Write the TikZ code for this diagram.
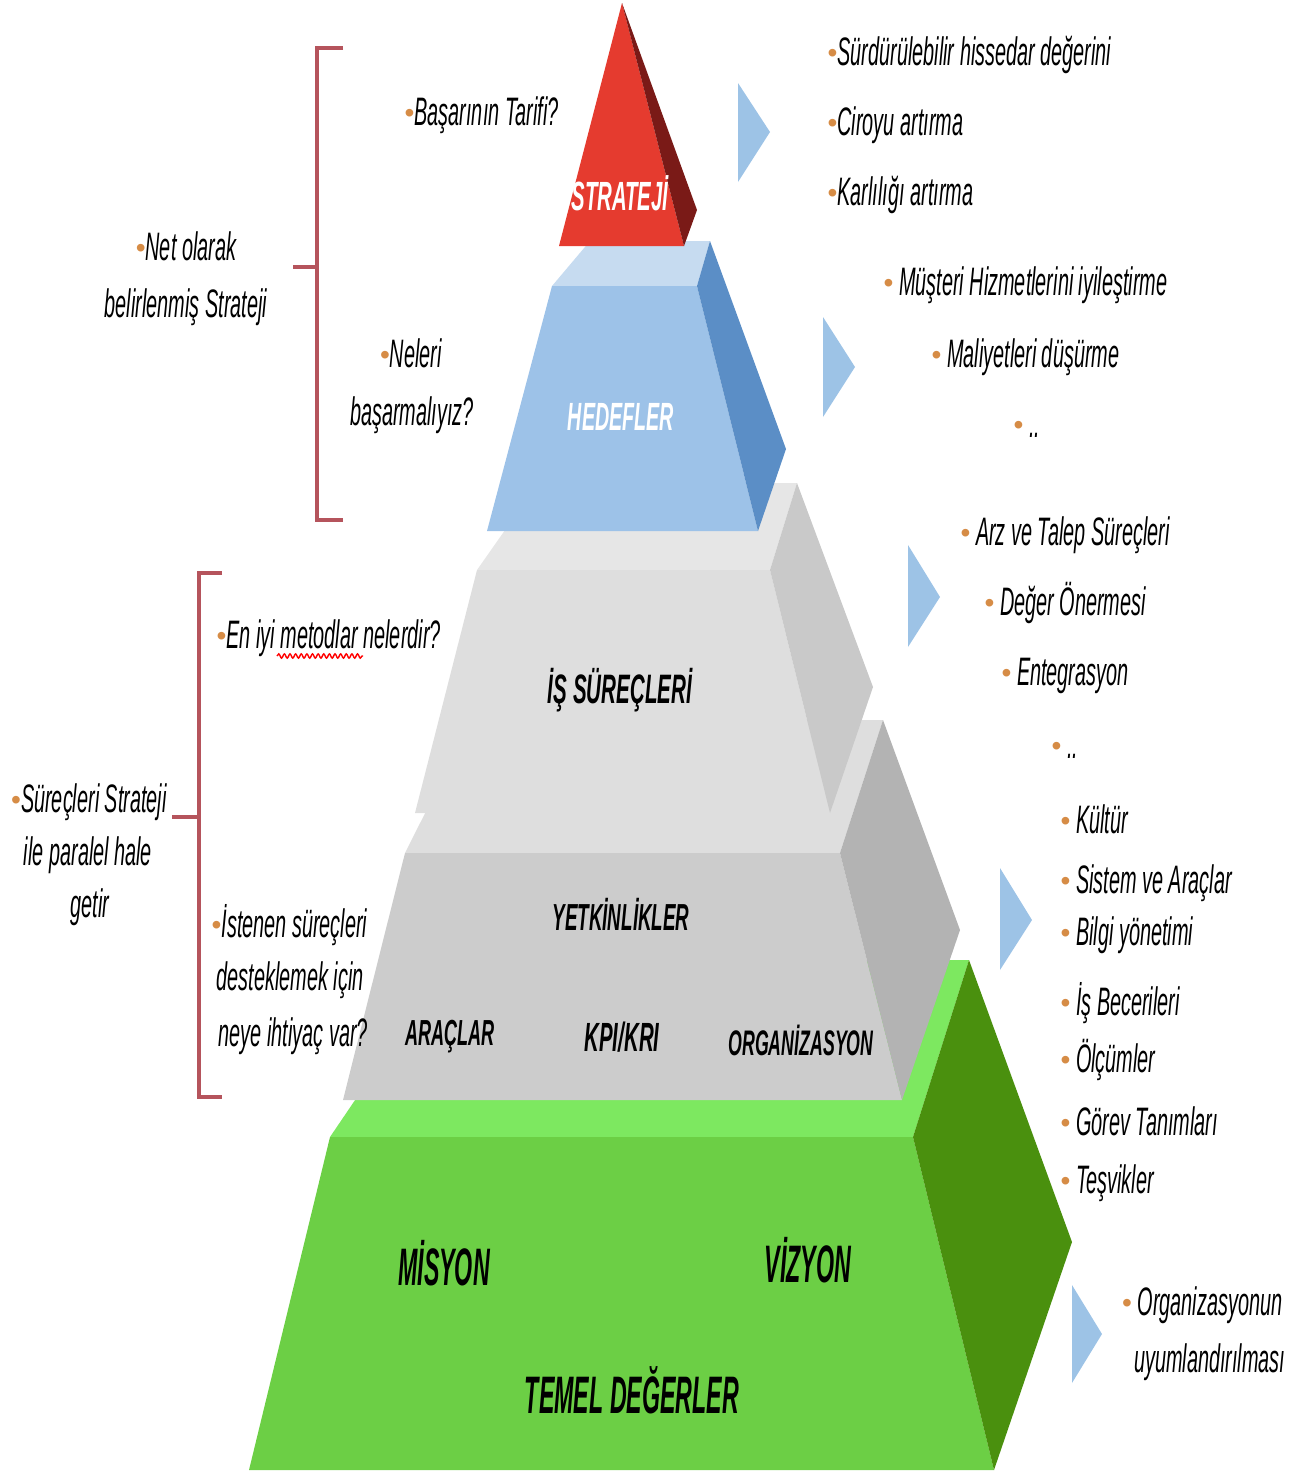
\documentclass[tikz,border=0pt]{standalone}
\usepackage{fontspec}
\usepackage{tikz}
\usetikzlibrary{decorations.pathmorphing}
\newfontfamily\slimsans[FakeStretch=0.5]{Liberation Sans}
\newfontfamily\squatsans[FakeStretch=0.44]{Liberation Sans}
\newfontfamily\plainsans{Liberation Sans}
\definecolor{stratred}{RGB}{229,59,47}
\definecolor{stratdark}{RGB}{122,26,23}
\definecolor{goaltop}{RGB}{198,219,240}
\definecolor{goalfront}{RGB}{157,194,232}
\definecolor{goalside}{RGB}{91,142,198}
\definecolor{proctop}{RGB}{230,230,230}
\definecolor{procfront}{RGB}{222,222,222}
\definecolor{procside}{RGB}{201,201,201}
\definecolor{comptop}{RGB}{222,222,222}
\definecolor{compfront}{RGB}{204,204,204}
\definecolor{compside}{RGB}{179,179,179}
\definecolor{basetop}{RGB}{125,232,96}
\definecolor{basefront}{RGB}{108,207,69}
\definecolor{baseside}{RGB}{74,144,14}
\definecolor{arrowblue}{RGB}{157,195,230}
\definecolor{bracketred}{RGB}{181,84,92}
\definecolor{dotorange}{RGB}{214,140,70}
\newcommand{\dotmark}{{\plainsans\upshape\fontsize{8}{8}\selectfont\raisebox{0.8pt}{\textcolor{dotorange}{•}}}}
\tikzset{
  note/.style={font=\slimsans\itshape\fontsize{11.3}{14}\selectfont, inner sep=0pt},
  layerlabel/.style={font=\slimsans\bfseries\itshape\fontsize{#1}{13}\selectfont, inner sep=0pt, anchor=base},
  baselabel/.style={font=\squatsans\bfseries\itshape\fontsize{15}{17}\selectfont, inner sep=0pt, anchor=base},
  bracket/.style={draw=bracketred, line width=0.9pt}
}
\begin{document}
\begin{tikzpicture}[x=0.01cm, y=-0.01cm]
    \useasboundingbox (0,0) rectangle (1308,1475);

    % Base layer
    \fill[basetop] (330,1137) -- (450,960) -- (969,960) -- (913,1137) -- cycle;
    \fill[basefront] (330,1137) -- (913,1137) -- (994,1470) -- (249,1470) -- cycle;
    \fill[baseside] (913,1137) -- (969,960) -- (1072,1242) -- (994,1470) -- cycle;

    % Competences
    \fill[comptop] (405,853) -- (472,720) -- (883,720) -- (840,853) -- cycle;
    \fill[compfront] (405,853) -- (840,853) -- (902,1100) -- (343,1100) -- cycle;
    \fill[compside] (840,853) -- (883,720) -- (960,930) -- (902,1100) -- cycle;

    % Processes
    \fill[proctop] (477,570) -- (538,483) -- (797,483) -- (770,570) -- cycle;
    \fill[procfront] (477,570) -- (770,570) -- (830,813) -- (415,813) -- cycle;
    \fill[procside] (770,570) -- (797,483) -- (873,687) -- (830,813) -- cycle;

    % Goals
    \fill[goaltop] (552,286) -- (590,241) -- (710,241) -- (697,286) -- cycle;
    \fill[goalfront] (552,286) -- (697,286) -- (758,531) -- (487,531) -- cycle;
    \fill[goalside] (697,286) -- (710,241) -- (786,449) -- (758,531) -- cycle;

    % Strategy tip
    \fill[stratred] (622,3) -- (684,246) -- (559,246) -- cycle;
    \fill[stratdark] (622,3) -- (697,210) -- (684,246) -- cycle;

    % Layer names
    \node[layerlabel=11.6, white] (strat) at (620,210) {STRATEJİ};
    \node[layerlabel=11.2, white] (goal) at (621,430) {HEDEFLER};
    \node[layerlabel=11.7] (proc) at (620,703) {İŞ SÜREÇLERİ};
    \node[layerlabel=10.7] (comp) at (621,930) {YETKİNLİKLER};
    \node[layerlabel=10.3] (tools) at (450,1045) {ARAÇLAR};
    \node[layerlabel=11.6] (kpi) at (622,1051) {KPI/KRI};
    \node[layerlabel=10.1] (org) at (801,1055) {ORGANİZASYON};
    \node[baselabel] (mission) at (444,1285) {MİSYON};
    \node[baselabel] (vision) at (808,1282) {VİZYON};
    \node[baselabel] (values) at (632,1413) {TEMEL DEĞERLER};

    % Blue pointers
    \fill[arrowblue] (738,83) -- (770,132) -- (738,182) -- cycle;
    \fill[arrowblue] (823,317) -- (855,367) -- (823,417) -- cycle;
    \fill[arrowblue] (908,545) -- (940,597) -- (908,647) -- cycle;
    \fill[arrowblue] (1000,868) -- (1032,920) -- (1000,970) -- cycle;
    \fill[arrowblue] (1072,1285) -- (1102,1334) -- (1072,1383) -- cycle;

    % Brackets
    \draw[bracket] (343,48) -- (317,48) -- (317,520) -- (343,520);
    \draw[bracket] (293,267) -- (317,267);
    \draw[bracket] (222,573) -- (199,573) -- (199,1097) -- (222,1097);
    \draw[bracket] (172,817) -- (199,817);

    % Left questions
    \node[note, anchor=base west] (tarif) at (404,125) {\dotmark Başarının Tarifi?};
    \node[note, anchor=base] (net1) at (186,260) {\dotmark Net olarak};
    \node[note, anchor=base] (net2) at (186,317) {belirlenmiş Strateji};
    \node[note, anchor=base] (neleri1) at (411,367) {\dotmark Neleri};
    \node[note, anchor=base] (neleri2) at (412,425) {başarmalıyız?};
    \node[note, anchor=base west] (metod) at (216,648) {\dotmark En iyi metodlar nelerdir?};
    \draw[red, decorate, decoration={snake, amplitude=0.6pt, segment length=1.6pt}] (277,656) -- (363,656);
    \node[note, anchor=base] (paral1) at (89,812) {\dotmark Süreçleri Strateji};
    \node[note, anchor=base] (paral2) at (88,865) {ile paralel hale};
    \node[note, anchor=base] (paral3) at (90,917) {getir};
    \node[note, anchor=base west] (ihtiyac1) at (211,937) {\dotmark İstenen süreçleri};
    \node[note, anchor=base west] (ihtiyac2) at (216,990) {desteklemek için};
    \node[note, anchor=base west] (ihtiyac3) at (218,1046) {neye ihtiyaç var?};

    % Right lists
    \node[note, anchor=base west] (deger) at (827,65) {\dotmark Sürdürülebilir hissedar değerini};
    \node[note, anchor=base west] (ciro) at (827,135) {\dotmark Ciroyu artırma};
    \node[note, anchor=base west] (kar) at (827,205) {\dotmark Karlılığı artırma};
    \node[note, anchor=base west] (musteri) at (883,295) {\dotmark\ Müşteri Hizmetlerini iyileştirme};
    \node[note, anchor=base west] (maliyet) at (931,367) {\dotmark\ Maliyetleri düşürme};
    \node[note, anchor=base west] (etc1) at (1013,437) {\dotmark\ ..};
    \node[note, anchor=base west] (arz) at (960,545) {\dotmark\ Arz ve Talep Süreçleri};
    \node[note, anchor=base west] (oneri) at (984,615) {\dotmark\ Değer Önermesi};
    \node[note, anchor=base west] (entegre) at (1001,685) {\dotmark\ Entegrasyon};
    \node[note, anchor=base west] (etc2) at (1051,758) {\dotmark\ ..};
    \node[note, anchor=base west] (kultur) at (1060,833) {\dotmark\ Kültür};
    \node[note, anchor=base west] (sistem) at (1060,893) {\dotmark\ Sistem ve Araçlar};
    \node[note, anchor=base west] (bilgi) at (1060,945) {\dotmark\ Bilgi yönetimi};
    \node[note, anchor=base west] (beceri) at (1060,1015) {\dotmark\ İş Becerileri};
    \node[note, anchor=base west] (olcum) at (1060,1072) {\dotmark\ Ölçümler};
    \node[note, anchor=base west] (gorev) at (1060,1135) {\dotmark\ Görev Tanımları};
    \node[note, anchor=base west] (tesvik) at (1060,1193) {\dotmark\ Teşvikler};
    \node[note, anchor=base east] (uyum1) at (1283,1315) {\dotmark\ Organizasyonun};
    \node[note, anchor=base east] (uyum2) at (1286,1372) {uyumlandırılması};
\end{tikzpicture}
\end{document}
